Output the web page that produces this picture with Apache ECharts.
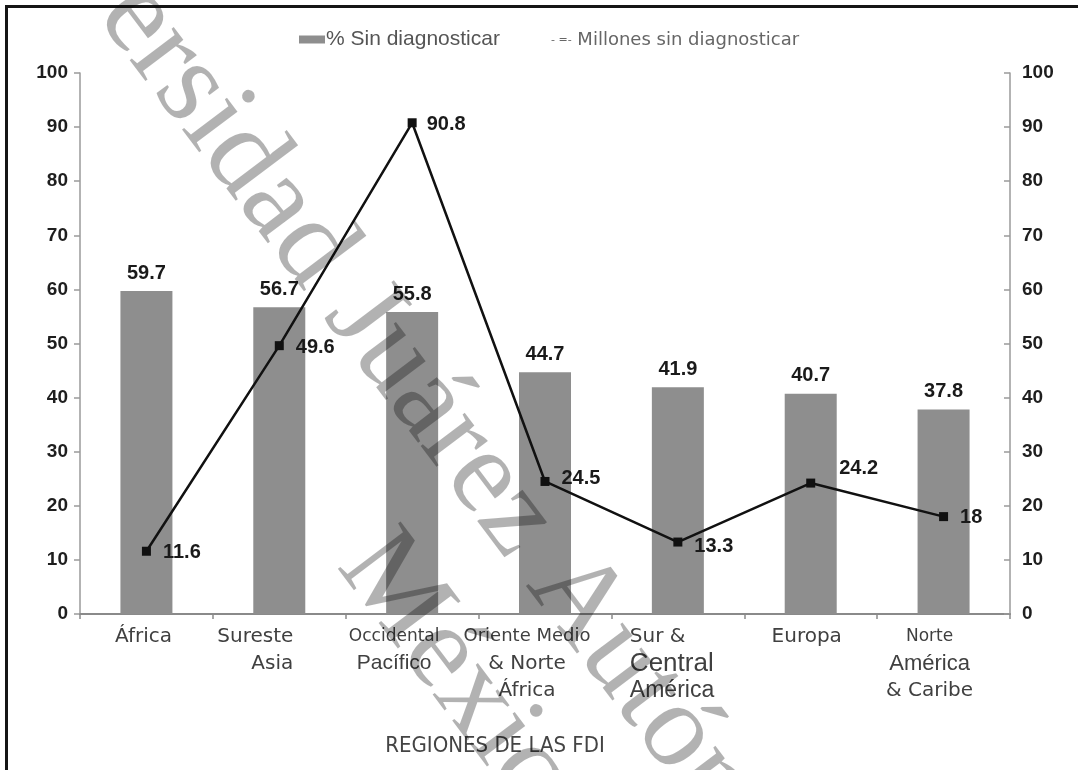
<!DOCTYPE html>
<html>
<head>
<meta charset="utf-8">
<script src="https://cdn.jsdelivr.net/npm/echarts@6/dist/echarts.min.js"></script>
<style>
  html, body { margin: 0; padding: 0; background: #fff; }
  #chart { width: 1078px; height: 770px; }
</style>
</head>
<body>
<div id="chart"></div>
<script>
// ---- data ----
const regions = [
  'África',
  'Sureste\nAsia',
  'Occidental\nPacífico',
  'Oriente Medio\n& Norte\nÁfrica',
  'Sur &\nCentral\nAmérica',
  'Europa',
  'Norte\nAmérica\n& Caribe'
];
const pctUndiagnosed = [59.7, 56.7, 55.8, 44.7, 41.9, 40.7, 37.8];
const millionsUndiagnosed = [11.6, 49.6, 90.8, 24.5, 13.3, 24.2, 18];
const valueAxisMin = 0;
const valueAxisMax = 100;
const valueAxisStep = 10;
const seriesNames = ['% Sin diagnosticar', 'Millones sin diagnosticar'];
const axisTitle = 'REGIONES DE LAS FDI';

// ---- styling ----
const SANS = '"Liberation Sans", Arial, sans-serif';
const WIDE = '"DejaVu Sans", Verdana, sans-serif';
const NARROW = '"Liberation Sans Narrow", "DejaVu Sans Condensed", "Liberation Sans", sans-serif';

// per-region label layout: anchor offset from the category centre, line alignment, font of each line
const regionLabelLayout = [
  { off: -3,  align: 'center', fonts: [[WIDE, 20]] },
  { off: 14,  align: 'right',  fonts: [[WIDE, 20], [WIDE, 20]] },
  { off: -18, align: 'center', fonts: [[WIDE, 17], [SANS, 21]] },
  { off: -18, align: 'center', fonts: [[WIDE, 18], [WIDE, 20], [WIDE, 20]] },
  { off: -48, align: 'left',   fonts: [[WIDE, 20], [SANS, 26], [SANS, 23]] },
  { off: -4,  align: 'center', fonts: [[WIDE, 20]] },
  { off: -14, align: 'center', fonts: [[WIDE, 17], [SANS, 22], [WIDE, 20]] }
];

// nudges for the line value labels [dx, dy]
const lineLabelNudge = [[2, 1], [2, 2], [0, 2], [2, -3], [2, 4], [14, -15], [2, 1]];

const measureCtx = document.createElement('canvas').getContext('2d');
function textWidth(str, family, size) {
  measureCtx.font = size + 'px ' + family;
  return measureCtx.measureText(str).width;
}

const rich = {};
const labelStrings = regions.map((name, i) => {
  const cfg = regionLabelLayout[i];
  const lines = name.split('\n');
  const widths = lines.map((l, j) => textWidth(l, cfg.fonts[j][0], cfg.fonts[j][1]));
  const w = Math.ceil(Math.max.apply(null, widths)) + 2;
  let shift = cfg.off;
  if (cfg.align === 'left') shift = cfg.off + w / 2;
  if (cfg.align === 'right') shift = cfg.off - w / 2;
  const pad = shift < 0 ? [0, -2 * shift, 0, 0] : [0, 0, 0, 2 * shift];
  return lines.map((l, j) => {
    const key = 'c' + i + 'l' + j;
    rich[key] = {
      fontFamily: cfg.fonts[j][0],
      fontSize: cfg.fonts[j][1],
      color: '#404040',
      width: w,
      align: cfg.align,
      padding: pad,
      lineHeight: 27
    };
    return '{' + key + '|' + l + '}';
  }).join('\n');
});

const chart = echarts.init(document.getElementById('chart'), null, { renderer: 'canvas' });

const valueAxisBase = {
  type: 'value',
  min: valueAxisMin,
  max: valueAxisMax,
  interval: valueAxisStep,
  splitLine: { show: false },
  axisLine: { show: true, lineStyle: { color: '#9a9a9a', width: 1.5 } },
  axisLabel: {
    fontFamily: SANS, fontWeight: 'bold', fontSize: 19, color: '#1e1e1e', margin: 12
  }
};

const watermarkFont = '120px "Liberation Serif", "Times New Roman", serif';
const watermarkAngle = -53 * Math.PI / 180;
const watermarkFill = 'rgba(0,0,0,0.3)';

chart.setOption({
  animation: false,
  backgroundColor: '#ffffff',
  grid: { left: 80, right: 68, top: 73, bottom: 156, containLabel: false },
  legend: [
    {
      data: [{ name: seriesNames[0], icon: 'rect' }],
      left: 294, top: 24,
      itemWidth: 26, itemHeight: 8, itemGap: 0,
      selectedMode: false,
      textStyle: { fontFamily: SANS, fontSize: 21, color: '#555555', padding: [0, 0, 0, -4] }
    },
    {
      data: [seriesNames[1]],
      left: 540, top: 26,
      itemWidth: 0, itemHeight: 0, itemGap: 0,
      selectedMode: false,
      formatter: name => '{p|- =-}{t| ' + name + '}',
      textStyle: {
        rich: {
          p: { fontFamily: WIDE, fontSize: 11, color: '#666666' },
          t: { fontFamily: WIDE, fontSize: 18, color: '#666666' }
        }
      }
    }
  ],
  xAxis: {
    type: 'category',
    data: regions,
    boundaryGap: true,
    name: axisTitle,
    nameLocation: 'middle',
    nameGap: 121,
    nameTextStyle: { fontFamily: NARROW, fontSize: 22, color: '#444444', padding: [0, 100, 0, 0] },
    axisLine: { lineStyle: { color: '#8a8a8a', width: 2 } },
    axisTick: { show: true, alignWithLabel: false, length: 5, lineStyle: { color: '#8a8a8a', width: 1.5 } },
    axisLabel: {
      interval: 0,
      margin: 9,
      formatter: (value, idx) => labelStrings[idx],
      rich: rich
    }
  },
  yAxis: [
    Object.assign({}, valueAxisBase, {
      position: 'left',
      axisTick: { show: true, length: 6, lineStyle: { color: '#9a9a9a', width: 1.5 } }
    }),
    Object.assign({}, valueAxisBase, {
      position: 'right',
      axisTick: { show: true, inside: true, length: 6, lineStyle: { color: '#9a9a9a', width: 1.5 } }
    })
  ],
  series: [
    {
      name: seriesNames[0],
      type: 'bar',
      data: pctUndiagnosed,
      barWidth: 52,
      itemStyle: { color: '#8e8e8e' },
      label: {
        show: true, position: 'top', distance: 8,
        fontFamily: SANS, fontWeight: 'bold', fontSize: 20, color: '#1a1a1a'
      },
      z: 2
    },
    {
      name: seriesNames[1],
      type: 'line',
      yAxisIndex: 1,
      data: millionsUndiagnosed.map((v, i) => ({
        value: v,
        label: { offset: lineLabelNudge[i] }
      })),
      symbol: 'rect',
      symbolSize: 9,
      lineStyle: { color: '#111111', width: 2.5 },
      itemStyle: { color: '#111111' },
      label: {
        show: true, position: 'right', distance: 10,
        fontFamily: SANS, fontWeight: 'bold', fontSize: 20, color: '#1a1a1a'
      },
      z: 3
    }
  ],
  graphic: [
    {
      type: 'rect', z: 50, silent: true,
      shape: { x: 6.5, y: 6.5, width: 1100, height: 800 },
      style: { fill: 'none', stroke: '#151515', lineWidth: 3 }
    },
    {
      type: 'text', z: 100, silent: true,
      x: -23, y: -195, rotation: watermarkAngle,
      style: {
        text: 'Universidad Juárez Autónoma',
        font: watermarkFont,
        fill: watermarkFill,
        textAlign: 'left', textVerticalAlign: 'middle'
      }
    },
    {
      type: 'text', z: 100, silent: true,
      x: 361, y: 547, rotation: watermarkAngle,
      style: {
        text: 'México',
        font: watermarkFont,
        fill: watermarkFill,
        textAlign: 'left', textVerticalAlign: 'middle'
      }
    }
  ]
});
</script>
</body>
</html>
